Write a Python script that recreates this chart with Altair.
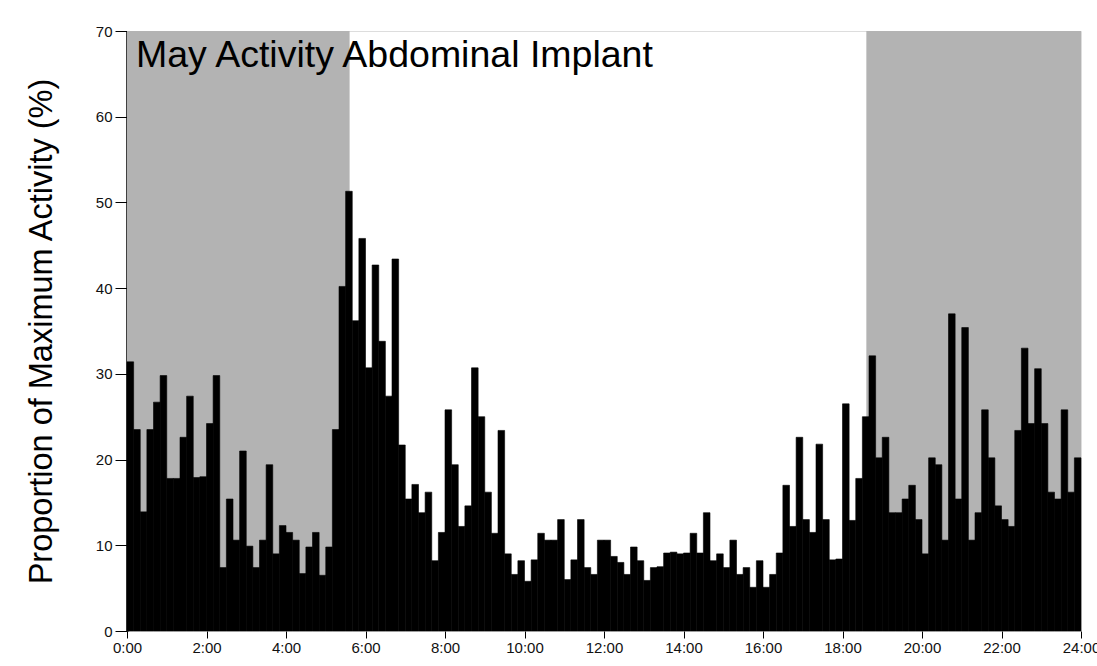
import altair as alt
import pandas as pd

# 10-minute bins across the day (bin index 0..143), values in % of max activity
values = [
    31.4, 23.5, 13.9, 23.5, 26.7, 29.8,   # 0:00
    17.8, 17.8, 22.6, 27.4, 17.9, 18.0,   # 1:00
    24.2, 29.8, 7.4, 15.4, 10.6, 21.0,    # 2:00
    9.9, 7.4, 10.6, 19.4, 9.0, 12.3,      # 3:00
    11.5, 10.6, 6.7, 9.8, 11.5, 6.5,      # 4:00
    9.8, 23.5, 40.2, 51.3, 36.2, 45.8,    # 5:00
    30.7, 42.7, 33.8, 27.4, 43.4, 21.7,   # 6:00
    15.4, 17.1, 13.8, 16.2, 8.2, 11.5,    # 7:00
    25.8, 19.4, 12.2, 14.6, 30.7, 25.0,   # 8:00
    16.2, 11.4, 23.4, 9.0, 6.6, 8.2,      # 9:00
    5.8, 8.3, 11.4, 10.6, 10.6, 13.0,     # 10:00
    6.0, 8.3, 13.0, 7.4, 6.6, 10.6,       # 11:00
    10.6, 8.7, 8.0, 6.6, 9.8, 8.2,        # 12:00
    5.9, 7.4, 7.5, 9.1, 9.2, 9.0,         # 13:00
    9.1, 11.4, 9.1, 13.8, 8.2, 9.0,       # 14:00
    7.4, 10.6, 6.6, 7.4, 5.1, 8.2,        # 15:00
    5.1, 6.6, 9.1, 17.0, 12.2, 22.6,      # 16:00
    13.0, 11.5, 21.8, 13.0, 8.3, 8.4,     # 17:00
    26.5, 12.9, 17.8, 25.0, 32.1, 20.2,   # 18:00
    22.6, 13.8, 13.8, 15.4, 17.0, 13.0,   # 19:00
    9.0, 20.2, 19.4, 10.6, 37.0, 15.4,    # 20:00
    35.4, 10.6, 13.8, 25.8, 20.2, 14.6,   # 21:00
    13.0, 12.2, 23.4, 33.0, 24.2, 30.6,   # 22:00
    24.2, 16.2, 15.4, 25.8, 16.2, 20.2,   # 23:00
]

bin_minutes = 10
night_start = [0.0, 18.6]   # hours
night_end = [5.6, 24.0]
night_top = [70, 70]

tick_hours = list(range(0, 25))
title_text = ["May Activity Abdominal Implant"]

bars = pd.DataFrame({
    "start": [i * bin_minutes / 60 for i in range(len(values))],
    "end": [(i + 1) * bin_minutes / 60 for i in range(len(values))],
    "value": values,
})
night = pd.DataFrame({"start": night_start, "end": night_end, "top": night_top})
title_df = pd.DataFrame({"label": title_text})

FONT = "Liberation Sans"

x_scale = alt.Scale(domain=[0, 24], nice=False, zero=False)
y_scale = alt.Scale(domain=[0, 70], nice=False)

x_axis = alt.Axis(
    values=tick_hours,
    labelExpr="datum.value % 2 == 0 ? datum.value + ':00' : ''",
    grid=False, domain=False, tickColor="black", tickSize=7, tickWidth=1,
    labelFont=FONT, labelFontSize=15, labelColor="#111111", labelPadding=2,
    labelOverlap=False, labelFlush=False, title=None,
)
y_axis = alt.Axis(
    values=list(range(0, 71, 10)),
    grid=False, domainColor="black", domainWidth=2.5, tickColor="black",
    tickSize=12, tickWidth=1, labelFont=FONT, labelFontSize=15,
    labelColor="#111111", labelPadding=3, labelFlush=False,
    title="Proportion of Maximum Activity (%)", titleFont=FONT,
    titleFontSize=32.5, titleFontWeight="normal", titleColor="black",
    titlePadding=37,
)

bg = alt.Chart(night).mark_rect(color="#b3b3b3").encode(
    x=alt.X("start:Q", scale=x_scale, axis=x_axis),
    x2="end:Q",
    y=alt.Y("top:Q", scale=y_scale, axis=y_axis),
    y2=alt.datum(0),
)

bar_layer = alt.Chart(bars).mark_rect(color="black", stroke="black", strokeWidth=0.6).encode(
    x=alt.X("start:Q", scale=x_scale),
    x2="end:Q",
    y=alt.Y("value:Q", scale=y_scale),
    y2=alt.datum(0),
)

# Title drawn inside the plot, anchored to the top-left corner of the axes
title_layer = alt.Chart(title_df).mark_text(
    align="left", baseline="alphabetic", font=FONT, fontSize=37.5,
    color="black", dx=9, dy=36,
).encode(
    x=alt.X(datum=0, scale=x_scale),
    y=alt.Y(datum=70, scale=y_scale),
    text="label:N",
)

chart = alt.layer(bg, bar_layer, title_layer).properties(
    width=954,
    height=600,
    autosize=alt.AutoSizeParams(type="none"),
    padding={"left": 127, "top": 31, "right": 16, "bottom": 35},
).configure_view(stroke=None).configure(background="white")

chart.save("out.html", embed_options={"renderer": "svg", "actions": False})
